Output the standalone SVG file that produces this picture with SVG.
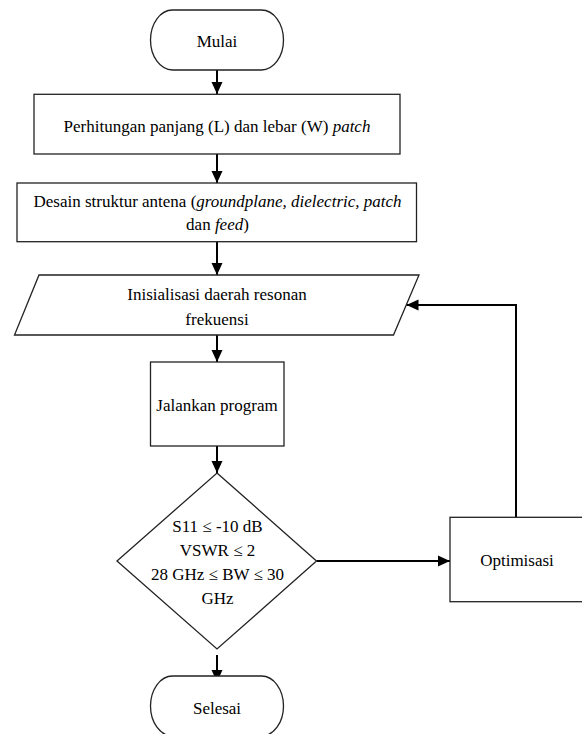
<svg xmlns="http://www.w3.org/2000/svg" width="582" height="734" viewBox="0 0 582 734">
<style>
.s{fill:#fff;stroke:#222;stroke-width:1.3}
.t{font-family:'Liberation Serif','Times New Roman',serif;font-size:17px;fill:#000;text-anchor:middle}
.i{font-style:italic}
.c{fill:none;stroke:#000;stroke-width:2}
</style>
<defs>
<marker id="ah" markerWidth="12" markerHeight="12" viewBox="0 0 12 12" refX="12" refY="6" orient="auto" markerUnits="userSpaceOnUse">
<path d="M0,0.5 L12,6 L0,11.5 Z" fill="#000"/>
</marker>
</defs>
<rect width="582" height="734" fill="#fff"/>
<g id="connectors">
<line class="c" x1="217" y1="70" x2="217" y2="94" marker-end="url(#ah)"/>
<line class="c" x1="217" y1="154" x2="217" y2="183" marker-end="url(#ah)"/>
<line class="c" x1="217" y1="242" x2="217" y2="275" marker-end="url(#ah)"/>
<line class="c" x1="217" y1="335" x2="217" y2="362" marker-end="url(#ah)"/>
<line class="c" x1="217" y1="446" x2="217" y2="473" marker-end="url(#ah)"/>
<line class="c" x1="217" y1="655" x2="217" y2="682" marker-end="url(#ah)"/>
<line class="c" x1="316.5" y1="561" x2="450" y2="561" marker-end="url(#ah)"/>
<polyline class="c" points="516,517 516,305 406.5,305" marker-end="url(#ah)"/>
</g>
<g id="mulai">
<path class="s" d="M172.5,10 H261.5 A22,30 0 0 1 261.5,70 H172.5 A22,30 0 0 1 172.5,10 Z"/>
<text class="t" font-family="Liberation Serif, serif" x="217" y="46.5">Mulai</text>
</g>
<g id="perhitungan">
<rect class="s" x="34" y="94.3" width="366" height="59.7"/>
<text class="t" font-family="Liberation Serif, serif" x="217" y="131.5">Perhitungan panjang (L) dan lebar (W) <tspan class="i">patch</tspan></text>
</g>
<g id="desain">
<rect class="s" x="17" y="183" width="399.5" height="58.7"/>
<text class="t" font-family="Liberation Serif, serif" x="217.5" y="206.5">Desain struktur antena (<tspan class="i">groundplane, dielectric, patch</tspan></text>
<text class="t" font-family="Liberation Serif, serif" x="217.5" y="230">dan <tspan class="i">feed</tspan>)</text>
</g>
<g id="inisialisasi">
<polygon class="s" points="39,275 419,275 393.5,335 14.5,335"/>
<text class="t" font-family="Liberation Serif, serif" x="217" y="300">Inisialisasi daerah resonan</text>
<text class="t" font-family="Liberation Serif, serif" x="217" y="325">frekuensi</text>
</g>
<g id="jalankan">
<rect class="s" x="150.5" y="362" width="133.5" height="84"/>
<text class="t" font-family="Liberation Serif, serif" x="217" y="410.5">Jalankan program</text>
</g>
<g id="keputusan">
<polygon class="s" points="217,473 316.5,561 217,649 117,561"/>
<text class="t" font-family="Liberation Serif, serif" x="217.5" y="532">S11 ≤ -10 dB</text>
<text class="t" font-family="Liberation Serif, serif" x="217.5" y="556">VSWR ≤ 2</text>
<text class="t" font-family="Liberation Serif, serif" x="217.5" y="580">28 GHz ≤ BW ≤ 30</text>
<text class="t" font-family="Liberation Serif, serif" x="217.5" y="604">GHz</text>
</g>
<g id="optimisasi">
<rect class="s" x="450" y="517.3" width="134" height="84.4"/>
<text class="t" font-family="Liberation Serif, serif" x="517" y="566">Optimisasi</text>
</g>
<g id="selesai">
<path class="s" d="M172.5,676 H261.5 A22,30 0 0 1 261.5,736 H172.5 A22,30 0 0 1 172.5,676 Z"/>
<text class="t" font-family="Liberation Serif, serif" x="217" y="714">Selesai</text>
</g>
</svg>
